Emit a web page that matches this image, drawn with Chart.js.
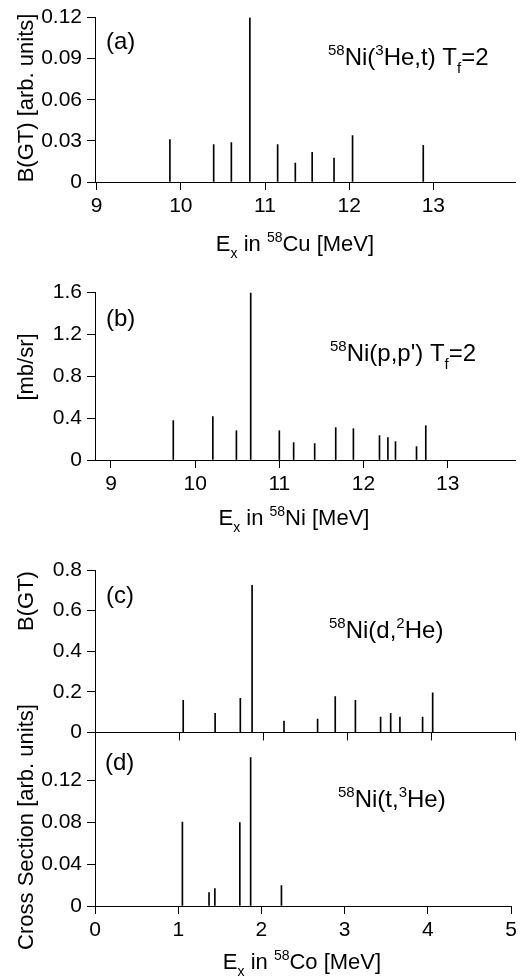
<!DOCTYPE html>
<html>
<head>
<meta charset="utf-8">
<script src="https://cdn.jsdelivr.net/npm/chart.js@4.4.0/dist/chart.umd.min.js"></script>
<style>
  body { margin: 0; background: #fff; }
  #wrap { position: relative; width: 521px; height: 980px; }
  canvas { position: absolute; left: 0; }
</style>
</head>
<body>
<div id="wrap">
  <canvas id="panelA" width="521" height="262" style="top:0px"></canvas>
  <canvas id="panelB" width="521" height="270" style="top:262px"></canvas>
  <canvas id="panelC" width="521" height="218" style="top:532px"></canvas>
  <canvas id="panelD" width="521" height="280" style="top:700px"></canvas>
</div>
<script>
// (a) 58Ni(3He,t) T=2 states in 58Cu
var energiesCu = [9.87, 10.39, 10.60, 10.82, 11.15, 11.36, 11.56, 11.82, 12.04, 12.88];
var bgtHe3t = [0.031, 0.0274, 0.0288, 0.12, 0.0274, 0.0138, 0.0217, 0.0174, 0.0338, 0.0267];

// (b) 58Ni(p,p') T=2 states in 58Ni
var energiesNi = [9.74, 10.21, 10.49, 10.66, 11.00, 11.17, 11.42, 11.67, 11.88, 12.19, 12.29, 12.38, 12.63, 12.74];
var sigmaPp = [0.375, 0.413, 0.279, 1.59, 0.279, 0.165, 0.156, 0.308, 0.298, 0.232, 0.213, 0.175, 0.127, 0.327];

// (c) 58Ni(d,2He) B(GT) in 58Co
var energiesD2He = [1.05, 1.43, 1.73, 1.87, 2.25, 2.65, 2.86, 3.10, 3.40, 3.52, 3.63, 3.90, 4.02];
var bgtD2He = [0.158, 0.094, 0.168, 0.724, 0.056, 0.066, 0.176, 0.158, 0.076, 0.094, 0.076, 0.076, 0.195];

// (d) 58Ni(t,3He) cross section in 58Co
var energiesT3He = [1.05, 1.37, 1.44, 1.74, 1.87, 2.24];
var sigmaT3He = [0.080, 0.0127, 0.0165, 0.0794, 0.1413, 0.0194];

// tick labels
var xTicksHigh = [9, 10, 11, 12, 13];
var xTicksCo = [0, 1, 2, 3, 4, 5];
var yTicksA = [0, 0.03, 0.06, 0.09, 0.12];
var yTicksB = [0, 0.4, 0.8, 1.2, 1.6];
var yTicksC = [0, 0.2, 0.4, 0.6, 0.8];
var yTicksD = [0, 0.04, 0.08, 0.12];

var FONT = '"Liberation Sans", Arial, Helvetica, sans-serif';
Chart.defaults.font.family = FONT;
Chart.defaults.color = '#000';

// text with super/subscripts: segs = [[text, 'sup'|'sub'|'']]
function drawRich(ctx, it, dy) {
  var F = it.size || 24;
  var S = Math.round(F * 0.62);
  ctx.save();
  ctx.fillStyle = '#000';
  ctx.textBaseline = 'alphabetic';
  ctx.textAlign = 'left';
  var w = 0;
  var parts = it.segs.map(function (s) {
    var sz = s[1] ? S : F;
    ctx.font = sz + 'px ' + FONT;
    var mw = ctx.measureText(s[0]).width;
    w += mw;
    return { t: s[0], k: s[1], sz: sz, mw: mw };
  });
  ctx.translate(it.x, it.y - dy);
  if (it.rot) ctx.rotate(it.rot);
  var x = it.center ? -w / 2 : 0;
  parts.forEach(function (p) {
    ctx.font = p.sz + 'px ' + FONT;
    var off = p.k === 'sup' ? -0.42 * F : (p.k === 'sub' ? 0.33 * F : 0);
    ctx.fillText(p.t, x, off);
    x += p.mw;
  });
  ctx.restore();
}

var richText = {
  id: 'richText',
  afterDraw: function (chart, args, opts) {
    (opts.items || []).forEach(function (it) { drawRich(chart.ctx, it, opts.top || 0); });
  }
};

function fmt(v) { return String(+Number(v).toFixed(3)); }

function makePanel(id, xs, ys, xr, yr, xTicks, yTicks, box, texts, showX) {
  var pts = xs.map(function (x, i) { return { x: x, y: ys[i] }; });
  return new Chart(document.getElementById(id), {
    type: 'bar',
    data: { datasets: [{ data: pts, backgroundColor: '#000', barThickness: 1, borderWidth: 0 }] },
    options: {
      responsive: false,
      animation: false,
      devicePixelRatio: 1,
      layout: { padding: { top: box.padTop, right: 6, bottom: 0, left: 0 } },
      plugins: {
        legend: { display: false },
        tooltip: { enabled: false },
        richText: { top: box.top, items: texts }
      },
      scales: {
        x: {
          type: 'linear',
          offset: false,
          min: xr[0], max: xr[1],
          afterBuildTicks: function (s) { s.ticks = xTicks.map(function (v) { return { value: v }; }); },
          afterFit: function (s) { s.height = box.xH; },
          border: { color: '#000', width: 1 },
          grid: { drawOnChartArea: false, offset: false, tickLength: 8, color: '#000', tickColor: '#000' },
          ticks: {
            font: { size: 21 }, padding: 4, maxRotation: 0, autoSkip: false,
            callback: function (v) { return showX ? fmt(v) : ''; }
          }
        },
        y: {
          min: yr[0], max: yr[1],
          afterBuildTicks: function (s) { s.ticks = yTicks.map(function (v) { return { value: v }; }); },
          afterFit: function (s) { s.width = 95; },
          border: { color: '#000', width: 1 },
          grid: { drawOnChartArea: false, tickLength: 8, color: '#000', tickColor: '#000' },
          ticks: { font: { size: 21 }, padding: 5, callback: function (v) { return fmt(v); } }
        }
      }
    },
    plugins: [richText]
  });
}

var UP = -Math.PI / 2;

makePanel('panelA', energiesCu, bgtHe3t, [8.98, 13.97], [0, 0.12], xTicksHigh, yTicksA,
  { top: 0, padTop: 14, xH: 80 },
  [
    { segs: [['(a)', '']], x: 106, y: 49 },
    { segs: [['58', 'sup'], ['Ni(', ''], ['3', 'sup'], ['He,t) T', ''], ['f', 'sub'], ['=2', '']], x: 328, y: 65 },
    { segs: [['E', ''], ['x', 'sub'], [' in ', ''], ['58', 'sup'], ['Cu [MeV]', '']], x: 295, y: 251, center: true, size: 22 },
    { segs: [['B(GT) [arb. units]', '']], x: 33, y: 98, center: true, rot: UP, size: 22 }
  ], true);

makePanel('panelB', energiesNi, sigmaPp, [8.81, 13.80], [0, 1.6], xTicksHigh, yTicksB,
  { top: 262, padTop: 30, xH: 72 },
  [
    { segs: [['(b)', '']], x: 106, y: 326 },
    { segs: [['58', 'sup'], ["Ni(p,p') T", ''], ['f', 'sub'], ['=2', '']], x: 330, y: 361 },
    { segs: [['E', ''], ['x', 'sub'], [' in ', ''], ['58', 'sup'], ['Ni [MeV]', '']], x: 294, y: 525, center: true, size: 22 },
    { segs: [['[mb/sr]', '']], x: 33, y: 367, center: true, rot: UP, size: 22 }
  ], true);

makePanel('panelC', energiesD2He, bgtD2He, [0, 5], [0, 0.8], xTicksCo, yTicksC,
  { top: 532, padTop: 38, xH: 12 },
  [
    { segs: [['(c)', '']], x: 106, y: 603 },
    { segs: [['58', 'sup'], ['Ni(d,', ''], ['2', 'sup'], ['He)', '']], x: 329, y: 638 },
    { segs: [['B(GT)', '']], x: 33, y: 601, center: true, rot: UP, size: 22 }
  ], false);

makePanel('panelD', energiesT3He, sigmaT3He, [0, 5], [0, 0.16], xTicksCo, yTicksD,
  { top: 700, padTop: 38, xH: 74 },
  [
    { segs: [['(d)', '']], x: 105, y: 770 },
    { segs: [['58', 'sup'], ['Ni(t,', ''], ['3', 'sup'], ['He)', '']], x: 338, y: 807 },
    { segs: [['E', ''], ['x', 'sub'], [' in ', ''], ['58', 'sup'], ['Co [MeV]', '']], x: 302, y: 969, center: true, size: 22 },
    { segs: [['Cross Section [arb. units]', '']], x: 33, y: 827, center: true, rot: UP, size: 22 }
  ], true);
</script>
</body>
</html>
